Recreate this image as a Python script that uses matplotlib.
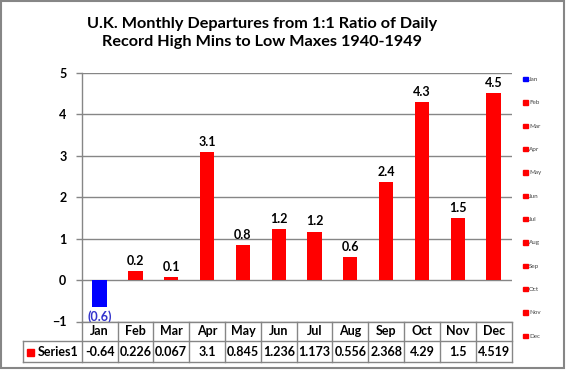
import matplotlib

matplotlib.use("Agg")
import matplotlib.pyplot as plt
from matplotlib.patches import Rectangle
from matplotlib.lines import Line2D

plt.rcParams["font.family"] = ["Lato", "DejaVu Sans"]

months = ["Jan", "Feb", "Mar", "Apr", "May", "Jun", "Jul", "Aug", "Sep", "Oct", "Nov", "Dec"]
values = [-0.64, 0.226, 0.067, 3.1, 0.845, 1.236, 1.173, 0.556, 2.368, 4.29, 1.5, 4.519]
series_name = "Series1"
title = "U.K. Monthly Departures from 1:1 Ratio of Daily\nRecord High Mins to Low Maxes 1940-1949"

W, H = 566, 370
GRAY = "#868686"
RED = "#ff0000"
BLUE = "#0000ff"

fig = plt.figure(figsize=(W / 100, H / 100), dpi=100)


def fx(px):
    return px / W


def fy(py):
    return 1 - py / H


# plot area in pixels
left, right, top, bottom = 81.7, 511.5, 73, 321.5
ax = fig.add_axes([fx(left), fy(bottom), fx(right) - fx(left), fy(top) - fy(bottom)])

colors = [BLUE if v < 0 else RED for v in values]
x = list(range(len(months)))
ax.bar(x, values, width=0.4, color=colors, zorder=3)

ax.set_xlim(-0.5, len(months) - 0.5)
ax.set_ylim(-1, 5)
ax.set_yticks(range(-1, 6))
ax.set_xticks([])
ax.grid(axis="y", color=GRAY, linewidth=1, zorder=0)
for side in ["top", "right", "bottom"]:
    ax.spines[side].set_visible(False)
ax.spines["left"].set_color(GRAY)
ax.spines["left"].set_linewidth(1)
ax.tick_params(axis="y", colors=GRAY, length=4, width=1, pad=7, labelcolor="black", labelsize=9)
for lbl in ax.get_yticklabels():
    lbl.set_fontweight("bold")

for i, v in enumerate(values):
    if v < 0:
        ax.annotate(f"({abs(v):.1f})", (i, v), xytext=(0, -3), textcoords="offset points",
                    ha="center", va="top", fontsize=9, fontweight="bold", color="#3333cc")
    else:
        ax.annotate(f"{v:.1f}", (i, v), xytext=(0, 3), textcoords="offset points",
                    ha="center", va="bottom", fontsize=9, fontweight="bold", color="black")

# data table under the plot
col_w = (right - left) / len(months)
row1_top, row1_bot, row2_bot = 321.5, 341, 362
tbl_left = 22.7
line_kw = dict(color=GRAY, linewidth=1, transform=fig.transFigure)
fig.add_artist(Line2D([fx(left), fx(right)], [fy(row1_top)] * 2, **line_kw))
fig.add_artist(Line2D([fx(tbl_left), fx(right)], [fy(row1_bot)] * 2, **line_kw))
fig.add_artist(Line2D([fx(tbl_left), fx(right)], [fy(row2_bot)] * 2, **line_kw))
fig.add_artist(Line2D([fx(tbl_left)] * 2, [fy(row1_bot), fy(row2_bot)], **line_kw))
for k in range(len(months) + 1):
    xp = left + k * col_w
    fig.add_artist(Line2D([fx(xp)] * 2, [fy(row1_top), fy(row2_bot)], **line_kw))
for k, (m, v) in enumerate(zip(months, values)):
    cx = left + (k + 0.5) * col_w
    fig.text(fx(cx), fy((row1_top + row1_bot) / 2), m, ha="center", va="center",
             fontsize=9, fontweight="bold")
    fig.text(fx(cx), fy((row1_bot + row2_bot) / 2), str(v), ha="center", va="center",
             fontsize=9, fontweight="bold")
fig.add_artist(Rectangle((fx(27), fy(355.5)), fx(7), 7 / H, color=RED, transform=fig.transFigure))
fig.text(fx(37.5), fy((row1_bot + row2_bot) / 2), series_name, ha="left", va="center",
         fontsize=9, fontweight="bold")

# legend on the right
leg_y0, leg_dy = 79.3, 23.35
for k, (m, c) in enumerate(zip(months, colors)):
    yp = leg_y0 + k * leg_dy
    fig.add_artist(Rectangle((fx(523), fy(yp + 2)), fx(4.5), 4.5 / H, color=c, transform=fig.transFigure))
    fig.text(fx(529), fy(yp), m, ha="left", va="center", fontsize=4.5, color="#444444")

fig.text(fx(262), fy(33), title, ha="center", va="center", fontsize=11.7, fontweight="bold",
         linespacing=1.45)

# outer chart border
fig.add_artist(Rectangle((fx(1), fy(368)), fx(563), 367 / H, fill=False, edgecolor=GRAY,
                         linewidth=1.5, transform=fig.transFigure))

fig.savefig("out.png", dpi=100)
